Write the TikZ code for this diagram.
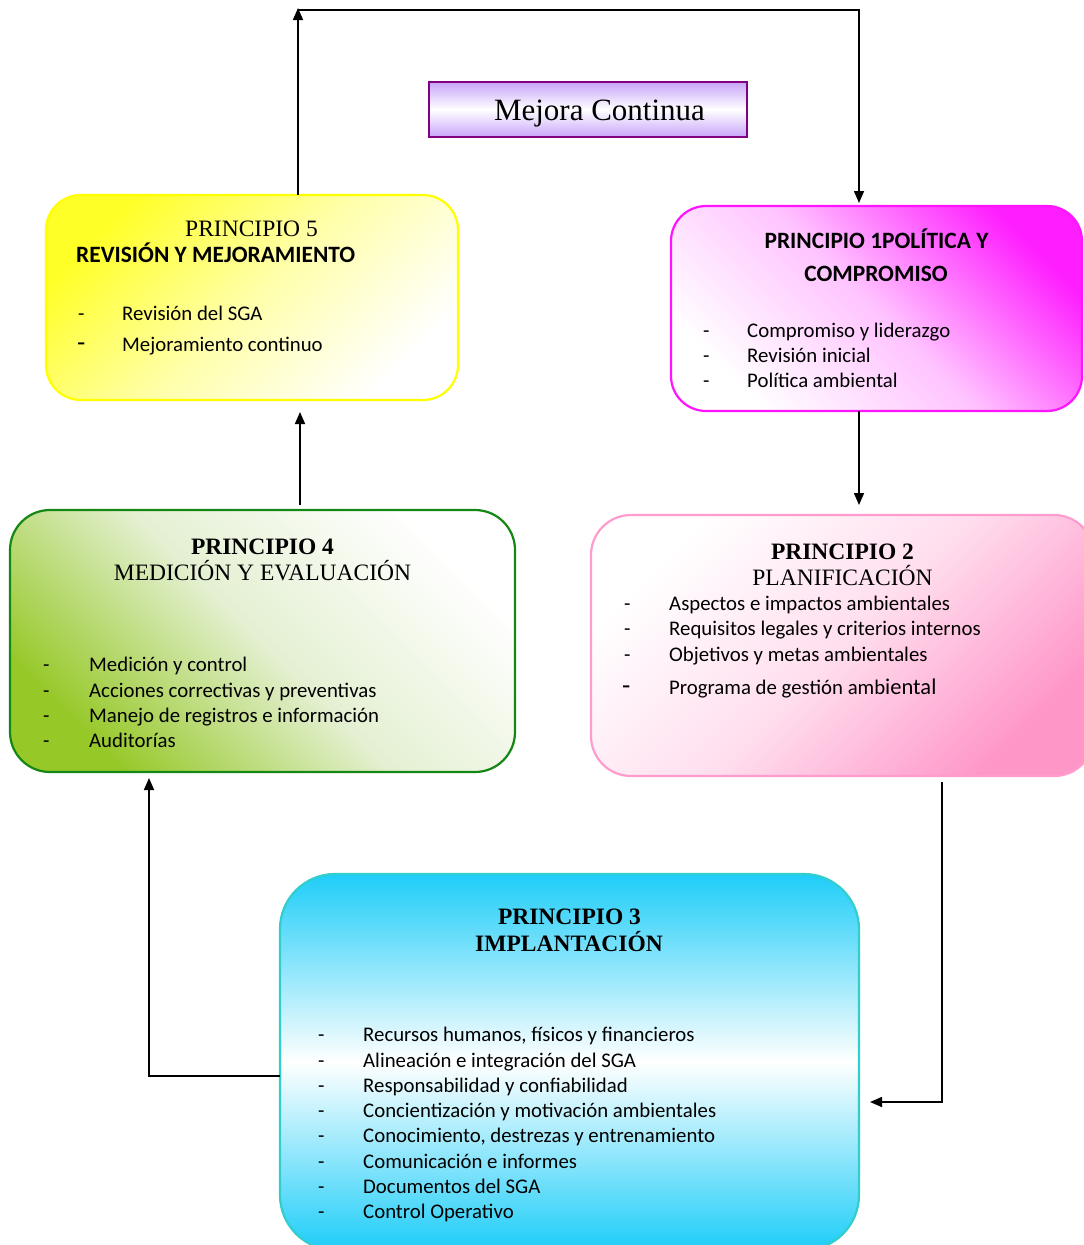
\documentclass[tikz,border=0pt]{standalone}
\usepackage{fontspec}
\setmainfont{Liberation Serif}
\newfontfamily\calibri{Carlito}
\usetikzlibrary{arrows.meta}

% box colours
\definecolor{yelB}{RGB}{255,255,0}
\definecolor{yelF}{RGB}{255,255,40}
\definecolor{yelM}{RGB}{255,255,170}
\definecolor{magB}{RGB}{255,20,255}
\definecolor{magF}{RGB}{255,30,255}
\definecolor{magM}{RGB}{255,195,255}
\definecolor{grnB}{RGB}{20,135,20}
\definecolor{grnF}{RGB}{150,200,40}
\definecolor{grnM}{RGB}{228,240,210}
\definecolor{pnkB}{RGB}{255,155,205}
\definecolor{pnkF}{RGB}{255,150,200}
\definecolor{pnkM}{RGB}{255,222,238}
\definecolor{cyaB}{RGB}{50,205,205}
\definecolor{cyaF}{RGB}{30,205,248}
\definecolor{purB}{RGB}{128,0,128}
\definecolor{purF}{RGB}{200,165,250}

\begin{document}
\begin{tikzpicture}[x=1pt,y=-1pt,
  box/.style={draw, line width=2.2pt, rounded corners=#1, inner sep=0pt, outer sep=0pt},
  ttl/.style={font=\fontsize{23.5}{27}\selectfont, anchor=base, inner sep=0pt},
  ttlb/.style={font=\bfseries\fontsize{23.5}{27}\selectfont, anchor=base, inner sep=0pt},
  hdc/.style={font=\calibri\bfseries\fontsize{23.4}{26}\selectfont, inner sep=0pt},
  itm/.style={font=\calibri\fontsize{20.8}{24}\selectfont, anchor=base west, inner sep=0pt},
  bigdsh/.style={font=\calibri\fontsize{27}{29}\selectfont, anchor=base west, inner sep=0pt},
  link/.style={line width=1.6pt, -{Triangle[length=12pt,width=10pt]}}
]
\useasboundingbox (0,0) rectangle (1084,1245);

% ---- title box ----
\node[box=0pt, draw=purB, line width=2.5pt, top color=purF, bottom color=purF, middle color=white,
      minimum width=318pt, minimum height=55pt] (mc) at (588,109.5) {};
\node[font=\fontsize{31}{34}\selectfont, anchor=base, inner sep=0pt] (mct) at (599.5,120) {Mejora Continua};

% ---- principle boxes ----
\node[box=35pt, draw=yelB, top color=yelF, bottom color=white, middle color=yelM, shading angle=45,
      minimum width=412pt, minimum height=205pt] (p5) at (252,297.5) {};
\node[box=35pt, draw=magB, top color=magF, bottom color=white, middle color=magM, shading angle=-45,
      minimum width=411pt, minimum height=205pt] (p1) at (876.5,308.5) {};
\node[box=40pt, draw=grnB, top color=white, bottom color=grnF, middle color=grnM, shading angle=-45,
      minimum width=505pt, minimum height=262pt] (p4) at (262.5,641) {};
\node[box=40pt, draw=pnkB, top color=white, bottom color=pnkF, middle color=pnkM, shading angle=45,
      minimum width=503pt, minimum height=261pt] (p2) at (842.5,645.5) {};
\node[box=55pt, draw=cyaB, top color=cyaF, bottom color=cyaF, middle color=white,
      minimum width=579pt, minimum height=376pt] (p3) at (569.5,1062) {};

% ---- principle 5 ----
\node[ttl] (p5h) at (251.5,236) {PRINCIPIO 5};
\node[hdc, anchor=base west] (p5s) at (76,262.7) {REVISIÓN Y MEJORAMIENTO};
\node[itm] (p5d1) at (78,320) {-};
\node[itm] (p5t1) at (122,320) {Revisión del SGA};
\node[bigdsh] (p5d2) at (77,351.7) {-};
\node[itm] (p5t2) at (122,351.7) {Mejoramiento continuo};

% ---- principle 1 ----
\node[hdc, anchor=base] (p1h) at (876.5,248.3) {PRINCIPIO 1POLÍTICA Y};
\node[hdc, anchor=base] (p1s) at (876,281.7) {COMPROMISO};
\foreach \t [count=\i] in {Compromiso y liderazgo, Revisión inicial, Política ambiental}{
  \node[itm] (p1d\i) at (703,{337.3+25.2*(\i-1)}) {-};
  \node[itm] (p1t\i) at (747,{337.3+25.2*(\i-1)}) {\t};
}

% ---- principle 4 ----
\node[ttlb] (p4h) at (262.5,554) {PRINCIPIO 4};
\node[ttl] (p4s) at (262.5,580) {MEDICIÓN Y EVALUACIÓN};
\foreach \t [count=\i] in {Medición y control, Acciones correctivas y preventivas,
                           Manejo de registros e información, Auditorías}{
  \node[itm] (p4d\i) at (43,{671.7+25.3*(\i-1)}) {-};
  \node[itm] (p4t\i) at (89,{671.7+25.3*(\i-1)}) {\t};
}

% ---- principle 2 ----
\node[ttlb] (p2h) at (842.5,559) {PRINCIPIO 2};
\node[ttl] (p2s) at (842.5,585) {PLANIFICACIÓN};
\foreach \t [count=\i] in {Aspectos e impactos ambientales, Requisitos legales y criterios internos,
                           Objetivos y metas ambientales}{
  \node[itm] (p2d\i) at (624,{610.3+25.4*(\i-1)}) {-};
  \node[itm] (p2t\i) at (669,{610.3+25.4*(\i-1)}) {\t};
}
\node[bigdsh] (p2d4) at (622,694.3) {-};
\node[itm] (p2t4) at (669,694.3) {Programa de gestión amb{\fontsize{22.5}{24}\selectfont iental}};

% ---- principle 3 ----
\node[ttlb] (p3h) at (569.5,924) {PRINCIPIO 3};
\node[ttlb] (p3s) at (569,951.7) {IMPLANTACIÓN};
\foreach \t [count=\i] in {{Recursos humanos, físicos y financieros}, Alineación e integración del SGA,
                           Responsabilidad y confiabilidad, Concientización y motivación ambientales,
                           {Conocimiento, destrezas y entrenamiento}, Comunicación e informes,
                           Documentos del SGA, Control Operativo}{
  \node[itm] (p3d\i) at (318,{1041.7+25.32*(\i-1)}) {-};
  \node[itm] (p3t\i) at (363,{1041.7+25.32*(\i-1)}) {\t};
}

% ---- connectors ----
\coordinate (k5) at (298,8);
\coordinate (k5h) at (298,10);
\coordinate (k1) at (859,10);
\coordinate (k12) at (859,0);
\coordinate (k23) at (942,1102);
\coordinate (k34) at (149,1076);
\coordinate (k45) at (300,0);

\draw[link] (k5 |- p5.north) -- (k5);
\draw[link, shorten >=3pt] (k5h) -- (k1) -- (k1 |- p1.north);
\draw[link, shorten >=10pt] (k12 |- p1.south) -- (k12 |- p2.north);
\draw[link, shorten <=6pt, shorten >=11pt] (k23 |- p2.south) -- (k23) -- (k23 -| p3.east);
\draw[link, shorten >=6pt] (k34 -| p3.west) -- (k34) -- (k34 |- p4.south);
\draw[link, shorten <=5pt, shorten >=12pt] (k45 |- p4.north) -- (k45 |- p5.south);
\end{tikzpicture}
\end{document}
